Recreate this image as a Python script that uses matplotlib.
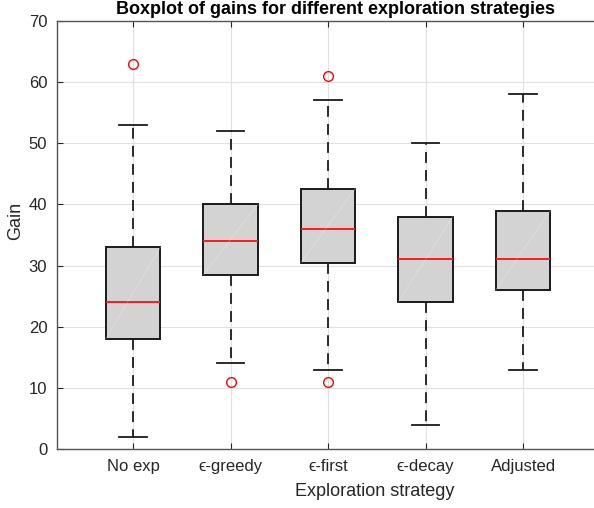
import matplotlib
matplotlib.use("Agg")
import matplotlib.pyplot as plt

plt.rcParams['font.family'] = ['Liberation Sans', 'DejaVu Sans']

strategies = ['No exp', 'ϵ-greedy', 'ϵ-first', 'ϵ-decay', 'Adjusted']
whislo = [2, 14, 13, 4, 13]
q1 = [18, 28.5, 30.5, 24, 26]
med = [24, 34, 36, 31, 31]
q3 = [33, 40, 42.6, 38, 39]
whishi = [53, 52, 57, 50, 58]
fliers = [[63], [11], [61, 11], [], []]

stats = []
for i in range(len(strategies)):
    stats.append(dict(label=strategies[i], whislo=whislo[i], q1=q1[i], med=med[i],
                      q3=q3[i], whishi=whishi[i], fliers=fliers[i]))

fig = plt.figure(figsize=(5.94, 5.08), dpi=100)
# axes run off the right edge of the figure
ax = fig.add_axes([57/594, 59/508, 600/594, 428/508])

pos = [1, 2, 3, 4, 5]
bp = ax.bxp(stats, positions=pos, widths=0.56, patch_artist=True,
            boxprops=dict(facecolor='#d3d3d3', edgecolor='#1a1a1a', linewidth=1.4),
            medianprops=dict(color='#ff1a1a', linewidth=1.4),
            whiskerprops=dict(color='#1a1a1a', linewidth=1.3, linestyle=(0, (6, 4))),
            capprops=dict(color='#1a1a1a', linewidth=1.3),
            capwidths=0.28,
            flierprops=dict(marker='o', markerfacecolor='none', markeredgecolor='red',
                            markersize=7, markeredgewidth=1.0))

# faint diagonal seam inside each filled box
for p, lo, hi in zip(pos, q1, q3):
    ax.plot([p - 0.28, p + 0.28], [lo, hi], color='white', lw=0.5, alpha=0.35, zorder=2.5)

ax.set_xlim(0.22, 0.22 + 600/97.5)
ax.set_ylim(0, 70)
ax.set_yticks(range(0, 71, 10))
ax.set_xticks(pos)
ax.set_xticklabels(strategies)
ax.grid(True, color='#e0e0e0', linewidth=0.8)
ax.set_axisbelow(True)
ax.tick_params(direction='in', length=4, labelsize=12, colors='#262626',
               top=True, right=False, pad=7)
for s in ax.spines.values():
    s.set_color('#555555')
    s.set_linewidth(1.0)
ax.spines['right'].set_visible(False)

fig.text(335/594, 1 - 9/508, 'Boxplot of gains for different exploration strategies',
         ha='center', va='center', fontsize=13, fontweight='bold')
fig.text(375/594, 1 - 492/508, 'Exploration strategy', ha='center', va='center',
         fontsize=13, color='#262626')
fig.text(16/594, 1 - 221/508, 'Gain', ha='center', va='center', rotation=90,
         fontsize=13, color='#262626')

fig.savefig('out.png', dpi=100)
